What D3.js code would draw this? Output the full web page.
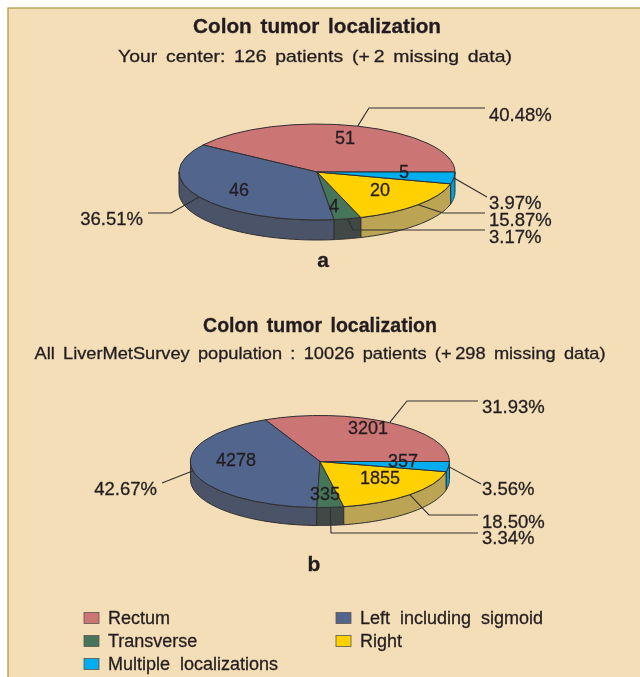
<!DOCTYPE html>
<html><head><meta charset="utf-8">
<script src="https://cdn.jsdelivr.net/npm/d3@7/dist/d3.min.js"></script>
<style>html,body{margin:0;padding:0;background:#fff}svg{display:block}
text{font-family:"Liberation Sans",Arial,sans-serif;fill:#231f20;stroke:#231f20;stroke-width:0.3px}</style>
</head><body><svg id="c" width="640" height="677"></svg>
<script>
// Data
const categories = ["Rectum","Left including sigmoid","Transverse","Right","Multiple localizations"];
const centerCounts = [51,46,4,20,5];
const centerPct = ["40.48%","36.51%","3.17%","15.87%","3.97%"];
const surveyCounts = [3201,4278,335,1855,357];
const surveyPct = ["31.93%","42.67%","3.34%","18.50%","3.56%"];
const titles = ["Colon tumor localization","Colon tumor localization"];
const subtitles = ["Your center: 126 patients (+\u20092 missing data)","All LiverMetSurvey population : 10026 patients (+\u2009298 missing data)"];
const panelTags = ["a","b"];

// Styles / layout
const topColors = ["#cc7475","#51658d","#47755a","#ffd100","#00aeef"];
const wallColors = ["#9c5858","#4c5368","#3f4a45","#bba453","#009fdb"];
const edge = "#302f31";
const legendOrder = [[0,84,618],[1,336,618],[2,84,641],[3,336,641],[4,84,664]];

const panels = [
 {counts:centerCounts,pct:centerPct,cx:317,cy:172,rx:138,ry:48,depth:20,
  titleX:317,titleY:26,subX:315,subY:56,tagX:323,tagY:260,titleW:248,subW:394,
  countPos:[[345,138],[239,190],[334,206],[380,190],[404,172]],
  leaders:[[[369,108],[485,108]],[[171,213],[148,213]],[[353,230],[485,230]],[[443,213],[485,213]],[[487,197]]],
  pctPos:[[489,115,"start"],[143,219,"end"],[489,237,"start"],[489,220,"start"],[489,203,"start"]]},
 {counts:surveyCounts,pct:surveyPct,cx:320,cy:461.5,rx:129.5,ry:46,depth:18,
  titleX:320,titleY:325,subX:320,subY:353,tagX:314,tagY:564,titleW:234,subW:571,
  countPos:[[368,428],[236,460],[325,494],[380,478],[403,461]],
  leaders:[[[407,401],[478,401]],[[162,483]],[[331,533],[478,533]],[[429,515],[478,515]],[[481,484]]],
  pctPos:[[482,407,"start"],[157,489,"end"],[482,538,"start"],[482,522,"start"],[482,489,"start"]]}
];

const svg = d3.select("#c");
const blur = svg.append("defs").append("filter").attr("id","soft")
  .attr("filterUnits","userSpaceOnUse")
  .attr("x",0).attr("y",0).attr("width",640).attr("height",677);
blur.append("feGaussianBlur").attr("stdDeviation",0.4);
const root = svg.append("g").attr("filter","url(#soft)");
root.append("rect").attr("x",0).attr("y",0).attr("width",640).attr("height",677).attr("fill","#fff");
root.append("rect").attr("x",8).attr("y",8).attr("width",640).attr("height",680)
    .attr("fill","#f4deb8").attr("stroke","#a5983f").attr("stroke-width",1.2);

const pie = d3.pie().sort(null).startAngle(Math.PI/2).endAngle(Math.PI/2-2*Math.PI);
const unitArc = d3.arc().innerRadius(0).outerRadius(1);

function fit(sel,w){ sel.attr("textLength",w).attr("lengthAdjust","spacingAndGlyphs"); }

panels.forEach((p,pi)=>{
  const g = root.append("g");
  const xy = ang => [p.cx + p.rx*Math.sin(ang), p.cy - p.ry*Math.cos(ang)];
  const slices = pie(p.counts);

  g.append("text").attr("x",p.titleX).attr("y",p.titleY).attr("dy","0.35em").attr("text-anchor","middle")
   .attr("font-size",20.5).attr("font-weight","bold").attr("word-spacing",3).text(titles[pi]).call(fit,p.titleW);
  g.append("text").attr("x",p.subX).attr("y",p.subY).attr("dy","0.35em").attr("text-anchor","middle")
   .attr("font-size",17).attr("word-spacing",3).text(subtitles[pi]).call(fit,p.subW);

  // walls (front half of the rim only)
  const wallPath = s=>{
    const lo = Math.min(s.startAngle,s.endAngle), hi = Math.max(s.startAngle,s.endAngle);
    const from = Math.max(lo,-3*Math.PI/2), to = Math.min(hi,-Math.PI/2);
    if(to<=from) return null;
    const angs = d3.range(0,41).map(i=>from+(to-from)*i/40);
    const pts = angs.map(xy);
    const low = pts.map(q=>[q[0],q[1]+p.depth]).reverse();
    return d3.line()(pts.concat(low))+"Z";
  };
  g.selectAll("path.wall").data(slices).join("path").attr("class","wall")
   .attr("d",s=>wallPath(s)).attr("fill",(s,i)=>wallColors[i])
   .attr("stroke",edge).attr("stroke-width",1);

  // top faces
  g.selectAll("path.top").data(slices).join("path").attr("class","top")
   .attr("transform",`translate(${p.cx},${p.cy}) scale(${p.rx},${p.ry})`)
   .attr("d",unitArc).attr("fill",(s,i)=>topColors[i])
   .attr("stroke",edge).attr("stroke-width",1)
   .style("vector-effect","non-scaling-stroke");

  // leaders start on the rim at each slice's mid-angle
  g.selectAll("path.leader").data(slices).join("path").attr("class","leader")
   .attr("d",(s,i)=>d3.line()([xy((s.startAngle+s.endAngle)/2)].concat(p.leaders[i])))
   .attr("fill","none").attr("stroke","#302f31").attr("stroke-width",1.1);

  g.selectAll("text.count").data(slices).join("text").attr("class","count")
   .attr("x",(s,i)=>p.countPos[i][0]).attr("y",(s,i)=>p.countPos[i][1]).attr("dy","0.35em")
   .attr("text-anchor","middle").attr("font-size",18).text(s=>s.data);

  g.selectAll("text.pct").data(p.pct).join("text").attr("class","pct")
   .attr("x",(d,i)=>p.pctPos[i][0]).attr("y",(d,i)=>p.pctPos[i][1]).attr("dy","0.35em")
   .attr("text-anchor",(d,i)=>p.pctPos[i][2]).attr("font-size",18.5).text(d=>d);

  g.append("text").attr("x",p.tagX).attr("y",p.tagY).attr("dy","0.35em").attr("text-anchor","middle")
   .attr("font-size",21).attr("font-weight","bold").text(panelTags[pi]);
});

const leg = root.append("g").selectAll("g").data(legendOrder).join("g")
  .attr("transform",d=>`translate(${d[1]},${d[2]})`);
leg.append("rect").attr("x",0).attr("y",-5.5).attr("width",15).attr("height",11)
  .attr("fill",d=>topColors[d[0]]).attr("stroke","#5a5650").attr("stroke-width",0.8);
leg.append("text").attr("x",24).attr("dy","0.35em").attr("font-size",18).attr("word-spacing",5).text(d=>categories[d[0]]);
</script></body></html>
